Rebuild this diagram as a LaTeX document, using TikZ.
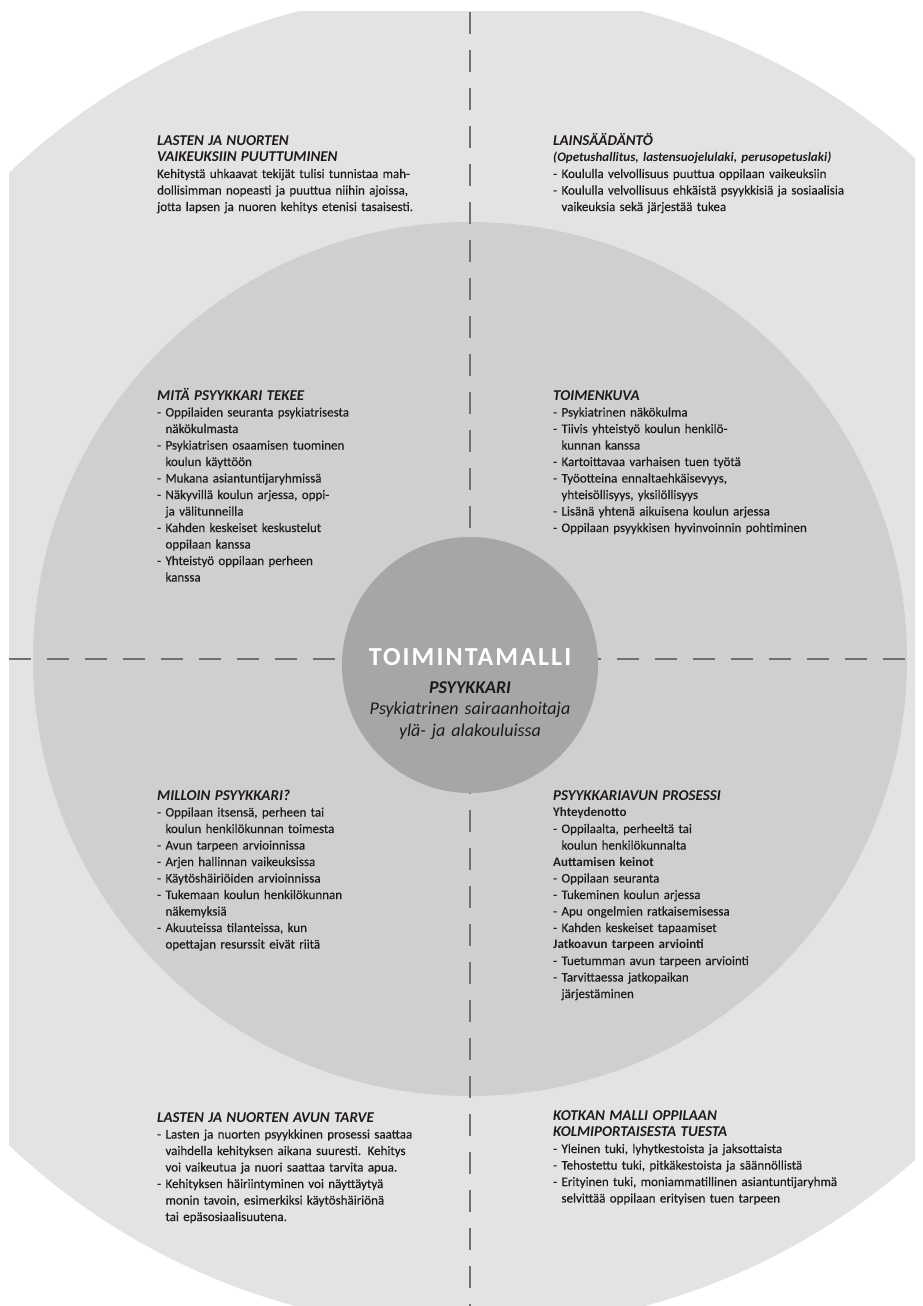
\documentclass[tikz,border=0pt]{standalone}
\usepackage{fontspec}
\setmainfont{Carlito}[UprightFeatures={FakeBold=0.35}]
\newfontfamily\widebold{Carlito}[LetterSpace=8]
\usepackage{tikz}

\definecolor{outer}{HTML}{E3E3E3}
\definecolor{middle}{HTML}{CFCFCF}
\definecolor{core}{HTML}{A6A6A6}
\definecolor{guideline}{HTML}{707070}
\definecolor{ink}{HTML}{1E1A18}
\newcommand{\head}[1]{{\fontsize{15}{16.5}\selectfont\bfseries\itshape #1}}
\newcommand{\sis}{\hphantom{- }}

\begin{document}
\begin{tikzpicture}[x=1pt,y=-1pt,
  block/.style={anchor=base west, inner sep=0pt, text width=370pt, align=left, text=ink, font=\fontsize{13}{16.5}\selectfont},
  guide/.style={draw=guideline, line width=1.2pt, dash pattern=on 22pt off 16pt}]
\useasboundingbox (0,0) rectangle (922,1306);
\begin{scope}
\clip (9,12) rectangle (915,1306);
\fill[outer] (470,659) circle (670);
\end{scope}
\fill[middle] (470,659) circle (437);
\coordinate (top) at (470,12);
\coordinate (bottom) at (470,1306);
\coordinate (left) at (9,659);
\coordinate (right) at (915,659);
\draw[guide] (top) -- (bottom);
\draw[guide] (left) -- (right);
\fill[core] (470,665) circle (128);
\node[text=white, inner sep=0pt, font=\fontsize{26}{26}\widebold\bfseries] (malli) at (470,657) {TOIMINTAMALLI};
\node[anchor=base, inner sep=0pt, text width=260pt, align=center, text=ink, font=\fontsize{18}{21.5}\selectfont\itshape] (rooli) at (470,693) {\textbf{PSYYKKARI}\\ Psykiatrinen sairaanhoitaja\\ ylä- ja alakouluissa};
\node[block] (puuttuminen) at (157,145) {\head{LASTEN JA NUORTEN}\\ \head{VAIKEUKSIIN PUUTTUMINEN}\\ Kehitystä uhkaavat tekijät tulisi tunnistaa mah-\\ dollisimman nopeasti ja puuttua niihin ajoissa,\\ jotta lapsen ja nuoren kehitys etenisi tasaisesti.};
\node[block] (laki) at (553,145) {\head{LAINSÄÄDÄNTÖ}\\ \textbf{\textit{(Opetushallitus, lastensuojelulaki, perusopetuslaki)}}\\ - Koululla velvollisuus puuttua oppilaan vaikeuksiin\\ - Koululla velvollisuus ehkäistä psyykkisiä ja sosiaalisia\\ \sis vaikeuksia sekä järjestää tukea};
\node[block] (tekee) at (157,400) {\head{MITÄ PSYYKKARI TEKEE}\\ - Oppilaiden seuranta psykiatrisesta\\ \sis näkökulmasta\\ - Psykiatrisen osaamisen tuominen\\ \sis koulun käyttöön\\ - Mukana asiantuntijaryhmissä\\ - Näkyvillä koulun arjessa, oppi-\\ \sis ja välitunneilla\\ - Kahden keskeiset keskustelut\\ \sis oppilaan kanssa\\ - Yhteistyö oppilaan perheen\\ \sis kanssa};
\node[block] (toimenkuva) at (553,400) {\head{TOIMENKUVA}\\ - Psykiatrinen näkökulma\\ - Tiivis yhteistyö koulun henkilö-\\ \sis kunnan kanssa\\ - Kartoittavaa varhaisen tuen työtä\\ - Työotteina ennaltaehkäisevyys,\\ \sis yhteisöllisyys, yksilöllisyys\\ - Lisänä yhtenä aikuisena koulun arjessa\\ - Oppilaan psyykkisen hyvinvoinnin pohtiminen};
\node[block] (milloin) at (157,800) {\head{MILLOIN PSYYKKARI?}\\ - Oppilaan itsensä, perheen tai\\ \sis koulun henkilökunnan toimesta\\ - Avun tarpeen arvioinnissa\\ - Arjen hallinnan vaikeuksissa\\ - Käytöshäiriöiden arvioinnissa\\ - Tukemaan koulun henkilökunnan\\ \sis näkemyksiä\\ - Akuuteissa tilanteissa, kun\\ \sis opettajan resurssit eivät riitä};
\node[block] (prosessi) at (553,800) {\head{PSYYKKARIAVUN PROSESSI}\\ \textbf{Yhteydenotto}\\ - Oppilaalta, perheeltä tai\\ \sis koulun henkilökunnalta\\ \textbf{Auttamisen keinot}\\ - Oppilaan seuranta\\ - Tukeminen koulun arjessa\\ - Apu ongelmien ratkaisemisessa\\ - Kahden keskeiset tapaamiset\\ \textbf{Jatkoavun tarpeen arviointi}\\ - Tuetumman avun tarpeen arviointi\\ - Tarvittaessa jatkopaikan\\ \sis järjestäminen};
\node[block] (tarve) at (157,1122) {\head{LASTEN JA NUORTEN AVUN TARVE}\\ - Lasten ja nuorten psyykkinen prosessi saattaa\\ \sis vaihdella kehityksen aikana suuresti. Kehitys\\ \sis voi vaikeutua ja nuori saattaa tarvita apua.\\ - Kehityksen häiriintyminen voi näyttäytyä\\ \sis monin tavoin, esimerkiksi käytöshäiriönä\\ \sis tai epäsosiaalisuutena.};
\node[block] (kotka) at (553,1120) {\head{KOTKAN MALLI OPPILAAN}\\ \head{KOLMIPORTAISESTA TUESTA}\\ - Yleinen tuki, lyhytkestoista ja jaksottaista\\ - Tehostettu tuki, pitkäkestoista ja säännöllistä\\ - Erityinen tuki, moniammatillinen asiantuntijaryhmä\\ \sis selvittää oppilaan erityisen tuen tarpeen};
\end{tikzpicture}
\end{document}
